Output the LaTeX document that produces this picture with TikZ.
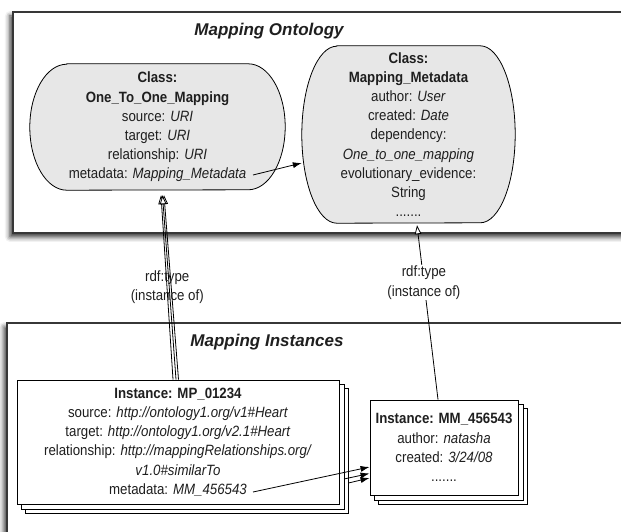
\documentclass[tikz,border=0pt]{standalone}
\usepackage{fontspec}
\setmainfont{Liberation Sans}[FakeStretch=0.89]
\newfontfamily\titlefont{Liberation Sans}
\usetikzlibrary{arrows.meta,shadows.blur,backgrounds}
\definecolor{classgray}{RGB}{231,231,231}
\definecolor{framegray}{RGB}{55,55,55}
\begin{document}
\begin{tikzpicture}[x=1pt,y=1pt,
  txt/.style={font=\fontsize{14.9}{19.2}\selectfont, align=center, inner sep=0pt, text=black!88},
  titletxt/.style={font=\titlefont\fontsize{17}{20}\selectfont\bfseries\itshape, inner sep=0pt, text=black!88},
  frame/.style={draw=framegray, line width=1.6pt, fill=white,
    blur shadow={shadow xshift=-3pt, shadow yshift=-4pt, shadow blur radius=5pt, shadow opacity=80}},
  classbox/.style={draw=black, line width=0.8pt, fill=classgray},
  instbox/.style={draw=black, line width=0.9pt, fill=white},
  fillarrow/.style={draw=black, line width=0.8pt, -{Latex[length=9pt,width=6pt]}},
  openarrow/.style={draw=black, line width=0.8pt, -{Triangle[open,length=9pt,width=6.5pt,fill=white]}},
  lbl/.style={font=\fontsize{14.9}{19.2}\selectfont, align=center, inner sep=1pt, text=black!88}]
\clip (0,0) rectangle (621,531);

% frames
\begin{pgfonlayer}{background}
  \path[frame] (13,519) rectangle (680,298);
  \path[frame] (7,208) rectangle (680,-60);
\end{pgfonlayer}

% titles
\node[titletxt] (T1) at (269,500) {Mapping Ontology};
\node[titletxt] (T2) at (267,189) {Mapping Instances};

% class nodes
\node[txt, minimum width=255, minimum height=126] (LC) at (157.5,404)
  {\textbf{Class:}\\ \textbf{One\_To\_One\_Mapping}\\ source: \textit{URI}\\ target: \textit{URI}\\ relationship: \textit{URI}\\ metadata: \textit{Mapping\_Metadata}};
\node[txt, minimum width=213, minimum height=177] (RC) at (408.5,396.5)
  {\textbf{Class:}\\ \textbf{Mapping\_Metadata}\\ author: \textit{User}\\ created: \textit{Date}\\ dependency:\\ \textit{One\_to\_one\_mapping}\\ evolutionary\_evidence:\\ String\\ .......};

\begin{pgfonlayer}{background}
  \draw[classbox] ([xshift=37pt]LC.north west) -- ([xshift=-37pt]LC.north east)
     arc[start angle=90,end angle=-90,x radius=37pt,y radius=63pt]
     -- ([xshift=37pt]LC.south west)
     arc[start angle=270,end angle=90,x radius=37pt,y radius=63pt] -- cycle;
  \draw[classbox] ([xshift=35pt]RC.north west) -- ([xshift=-35pt]RC.north east)
     arc[start angle=90,end angle=-90,x radius=35pt,y radius=88.5pt]
     -- ([xshift=35pt]RC.south west)
     arc[start angle=270,end angle=90,x radius=35pt,y radius=88.5pt] -- cycle;
\end{pgfonlayer}

% instance nodes
\node[txt, instbox, minimum width=322, minimum height=124] (MP) at (178,89)
  {\textbf{Instance: MP\_01234}\\ source: \textit{http://ontology1.org/v1\#Heart}\\ target: \textit{http://ontology1.org/v2.1\#Heart}\\ relationship: \textit{http://mappingRelationships.org/}\\ \textit{v1.0\#similarTo}\\ metadata: \textit{MM\_456543}};
\node[txt, instbox, minimum width=148, minimum height=95] (MM) at (444,83.5)
  {\textbf{Instance: MM\_456543}\\ author: \textit{natasha}\\ created: \textit{3/24/08}\\ .......};

\begin{pgfonlayer}{background}
  \foreach \s in {9,4.5}{
    \draw[instbox] ([shift={(\s,-\s)}]MP.south west) rectangle ([shift={(\s,-\s)}]MP.north east);
    \draw[instbox] ([shift={(\s,-\s)}]MM.south west) rectangle ([shift={(\s,-\s)}]MM.north east);
  }
\end{pgfonlayer}

% connector end points at the ends of the metadata texts
\coordinate (m1) at (253,356);
\coordinate (m2) at (253,39);

% metadata connectors
\draw[fillarrow] (m1) -- ([yshift=-28.5pt]RC.west);
\draw[fillarrow] (m2) -- ([yshift=-19.5pt]MM.west);
\draw[fillarrow] ([shift={(4.5pt,-37pt)}]MP.east) -- ([yshift=-26pt]MM.west);
\draw[fillarrow] ([shift={(9pt,-41pt)}]MP.east) -- ([yshift=-30.5pt]MM.west);

% rdf:type connectors
\draw[openarrow] ([xshift=-5pt]MP.north) -- ([shift={(3.5pt,-5pt)}]LC.south);
\draw[openarrow] ([xshift=0.5pt]MP.north) -- ([shift={(6.5pt,-5pt)}]LC.south);
\draw[openarrow] ([xshift=-2pt]MP.north) -- node[lbl, pos=0.5, xshift=-2pt] (L1) {rdf:type\\(instance of)} ([shift={(5pt,-5pt)}]LC.south);
\draw[openarrow] ([xshift=-6pt]MM.north) -- node[lbl, fill=white, pos=0.67] (L2) {rdf:type\\(instance of)} ([shift={(8.5pt,-2pt)}]RC.south);
\end{tikzpicture}
\end{document}
